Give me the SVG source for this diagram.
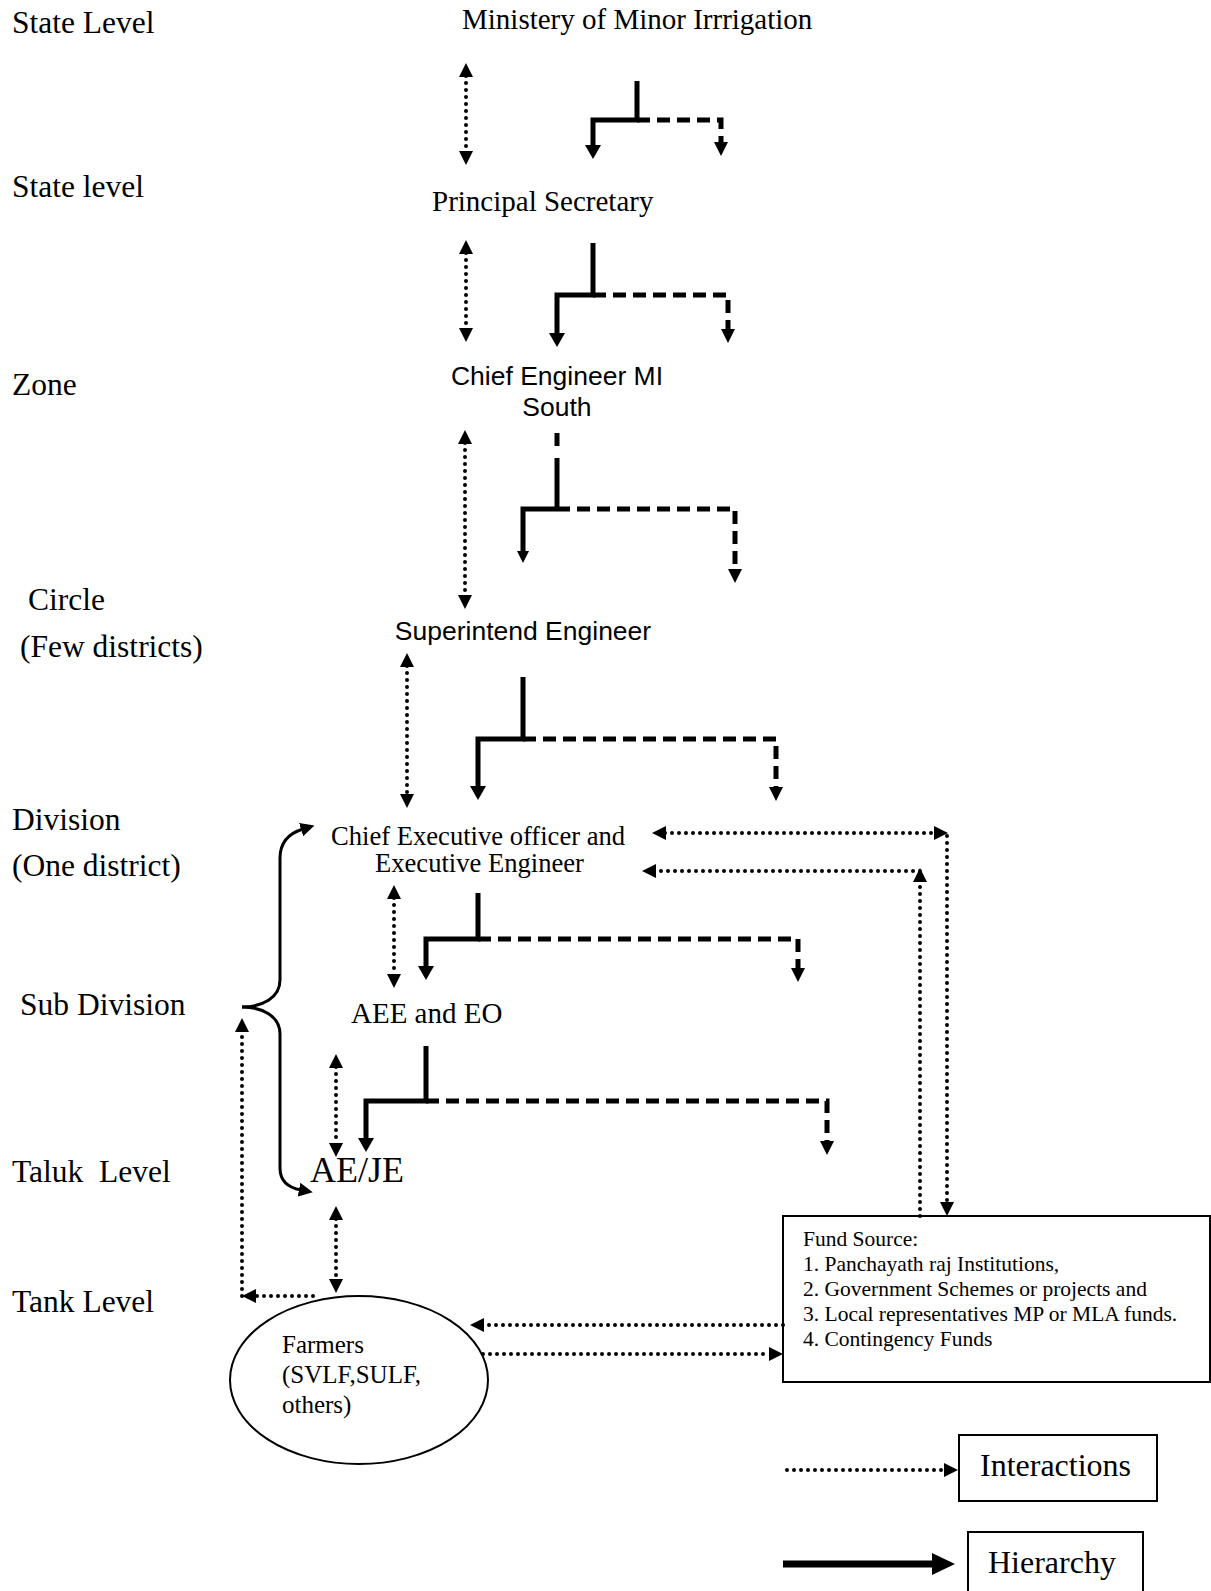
<svg xmlns="http://www.w3.org/2000/svg" width="1211" height="1591" viewBox="0 0 1211 1591">
<style>
.s{font-family:"Liberation Serif","Times New Roman",serif;fill:#000}
.lab{font-size:31.5px}
.nd{font-size:29px}
.ss{font-family:"Liberation Sans",Arial,sans-serif;font-size:26.5px;fill:#000}
.fs{font-size:21.5px}
.hs{fill:none;stroke:#000;stroke-width:5;stroke-linejoin:miter}
.hd{fill:none;stroke:#000;stroke-width:5;stroke-dasharray:13 7}
.dot{fill:none;stroke:#000;stroke-width:4;stroke-linecap:round;stroke-dasharray:0 7}
.box{fill:#fff;stroke:#000;stroke-width:2}
</style>
<defs>
<marker id="aH" viewBox="0 0 14 16" markerWidth="14" markerHeight="16" refX="2" refY="8" orient="auto" markerUnits="userSpaceOnUse"><path d="M0,0 L14,8 L0,16 z" fill="#000"/></marker>
<marker id="aD" viewBox="0 0 14 14" markerWidth="14" markerHeight="14" refX="2" refY="7" orient="auto" markerUnits="userSpaceOnUse"><path d="M0,0 L14,7 L0,14 z" fill="#000"/></marker>
<marker id="aSm" viewBox="0 0 12 12" markerWidth="12" markerHeight="12" refX="2" refY="6" orient="auto" markerUnits="userSpaceOnUse"><path d="M0,0 L12,6 L0,12 z" fill="#000"/></marker>
<marker id="aI" viewBox="0 0 14 14" markerWidth="14" markerHeight="14" refX="1" refY="7" orient="auto-start-reverse" markerUnits="userSpaceOnUse"><path d="M0,0 L14,7 L0,14 z" fill="#000"/></marker>
<marker id="aB" viewBox="0 0 14 14" markerWidth="14" markerHeight="14" refX="2" refY="7" orient="auto" markerUnits="userSpaceOnUse"><path d="M0,0 L14,7 L0,14 z" fill="#000"/></marker>
<marker id="aL" viewBox="0 0 23 22" markerWidth="23" markerHeight="22" refX="2" refY="11" orient="auto" markerUnits="userSpaceOnUse"><path d="M0,0 L23,11 L0,22 z" fill="#000"/></marker>
</defs>
<rect width="1211" height="1591" fill="#fff"/>

<g id="level-labels" class="s lab">
<text x="12" y="33">State Level</text>
<text x="12" y="197">State level</text>
<text x="12" y="395">Zone</text>
<text x="28" y="610">Circle</text>
<text x="20" y="657">(Few districts)</text>
<text x="12" y="830">Division</text>
<text x="12" y="876">(One district)</text>
<text x="20" y="1015">Sub Division</text>
<text x="12" y="1182" xml:space="preserve">Taluk  Level</text>
<text x="12" y="1312">Tank Level</text>
</g>

<g id="ministry"><text class="s nd" x="462" y="29">Ministery of Minor Irrrigation</text></g>
<g id="principal-secretary"><text class="s nd" x="432" y="211">Principal Secretary</text></g>
<g id="chief-engineer"><text class="ss" text-anchor="middle"><tspan x="557" y="385">Chief Engineer MI</tspan><tspan x="557" y="416">South</tspan></text></g>
<g id="superintend-engineer"><text class="ss" x="523" y="640" text-anchor="middle">Superintend Engineer</text></g>
<g id="chief-executive"><text class="s" font-size="26.6"><tspan x="331" y="845">Chief Executive officer and</tspan><tspan x="375" y="872">Executive Engineer</tspan></text></g>
<g id="aee-eo"><text class="s nd" x="351" y="1023">AEE and EO</text></g>
<g id="ae-je"><text class="s" font-size="36" x="310" y="1182">AE/JE</text></g>
<g id="farmers">
<ellipse cx="359" cy="1380" rx="129" ry="84" fill="#fff" stroke="#000" stroke-width="2"/>
<text class="s" font-size="25"><tspan x="282" y="1353">Farmers</tspan><tspan x="282" y="1383">(SVLF,SULF,</tspan><tspan x="282" y="1413">others)</tspan></text>
</g>
<g id="fund-source">
<rect class="box" x="783" y="1216" width="427" height="166"/>
<text class="s fs"><tspan x="803" y="1246">Fund Source:</tspan><tspan x="803" y="1271">1. Panchayath raj Institutions,</tspan><tspan x="803" y="1296">2. Government Schemes or projects and</tspan><tspan x="803" y="1321">3. Local representatives MP or MLA funds.</tspan><tspan x="803" y="1346">4. Contingency Funds</tspan></text>
</g>
<g id="legend-interactions">
<rect class="box" x="959" y="1435" width="198" height="66"/>
<text class="s" font-size="32" x="980" y="1476">Interactions</text>
</g>
<g id="legend-hierarchy">
<rect class="box" x="968" y="1532" width="175" height="70"/>
<text class="s" font-size="32" x="988" y="1573">Hierarchy</text>
</g>

<g id="connectors">
<path class="hs" d="M637,81 V120 H593 V147" marker-end="url(#aH)"/>
<path class="hd" d="M637,120 H721 V144" marker-end="url(#aD)"/>
<path class="hs" d="M593,243 V295 H557 V335" marker-end="url(#aH)"/>
<path class="hd" d="M593,295 H728 V331" marker-end="url(#aD)"/>
<path class="hd" d="M557,433 V452"/>
<path class="hs" d="M557,458 V511"/>
<path class="hs" d="M557,509 H523 V553" stroke-width="3.5" marker-end="url(#aSm)"/>
<path class="hd" d="M557,509 H735 V571" marker-end="url(#aD)"/>
<path class="hs" d="M523,677 V739 H478 V788" marker-end="url(#aH)"/>
<path class="hd" d="M523,739 H776 V789" marker-end="url(#aD)"/>
<path class="hs" d="M478,893 V939 H426 V968" marker-end="url(#aH)"/>
<path class="hd" d="M478,939 H798 V970" marker-end="url(#aD)"/>
<path class="hs" d="M426,1046 V1101 H366 V1140" marker-end="url(#aH)"/>
<path class="hd" d="M426,1101 H827 V1143" marker-end="url(#aD)"/>
<path class="dot" d="M466,76 V152" marker-start="url(#aI)" marker-end="url(#aI)"/>
<path class="dot" d="M466,253 V329" marker-start="url(#aI)" marker-end="url(#aI)"/>
<path class="dot" d="M465,443 V596" marker-start="url(#aI)" marker-end="url(#aI)"/>
<path class="dot" d="M407,666 V795" marker-start="url(#aI)" marker-end="url(#aI)"/>
<path class="dot" d="M394,898 V975" marker-start="url(#aI)" marker-end="url(#aI)"/>
<path class="dot" d="M336,1067 V1144" marker-start="url(#aI)" marker-end="url(#aI)"/>
<path class="dot" d="M336,1219 V1280" marker-start="url(#aI)" marker-end="url(#aI)"/>
<path class="dot" d="M242,1296 V1031" marker-end="url(#aI)"/>
<path class="dot" d="M313,1296 H255" marker-end="url(#aI)"/>
<path class="dot" d="M665,833 H935" stroke-dasharray="0 5" marker-start="url(#aI)" marker-end="url(#aI)"/>
<path class="dot" d="M947,836 V1203" marker-end="url(#aI)"/>
<path class="dot" d="M920,1216 V881" marker-end="url(#aI)"/>
<path class="dot" d="M920,871 H655" marker-end="url(#aI)"/>
<path class="dot" d="M783,1325 H483" marker-end="url(#aI)"/>
<path class="dot" d="M483,1354 H770" marker-end="url(#aI)"/>
<path d="M242,1007 C262,1007 280,998 280,980 V858 C280,842 290,833 303,829" fill="none" stroke="#000" stroke-width="3" marker-end="url(#aB)"/>
<path d="M242,1007 C262,1007 280,1016 280,1034 V1168 C280,1182 290,1188 301,1190" fill="none" stroke="#000" stroke-width="3" marker-end="url(#aB)"/>
<path class="dot" d="M787,1470 H945" marker-end="url(#aI)"/>
<path d="M783,1564 H934" fill="none" stroke="#000" stroke-width="7" marker-end="url(#aL)"/>
</g>
</svg>
